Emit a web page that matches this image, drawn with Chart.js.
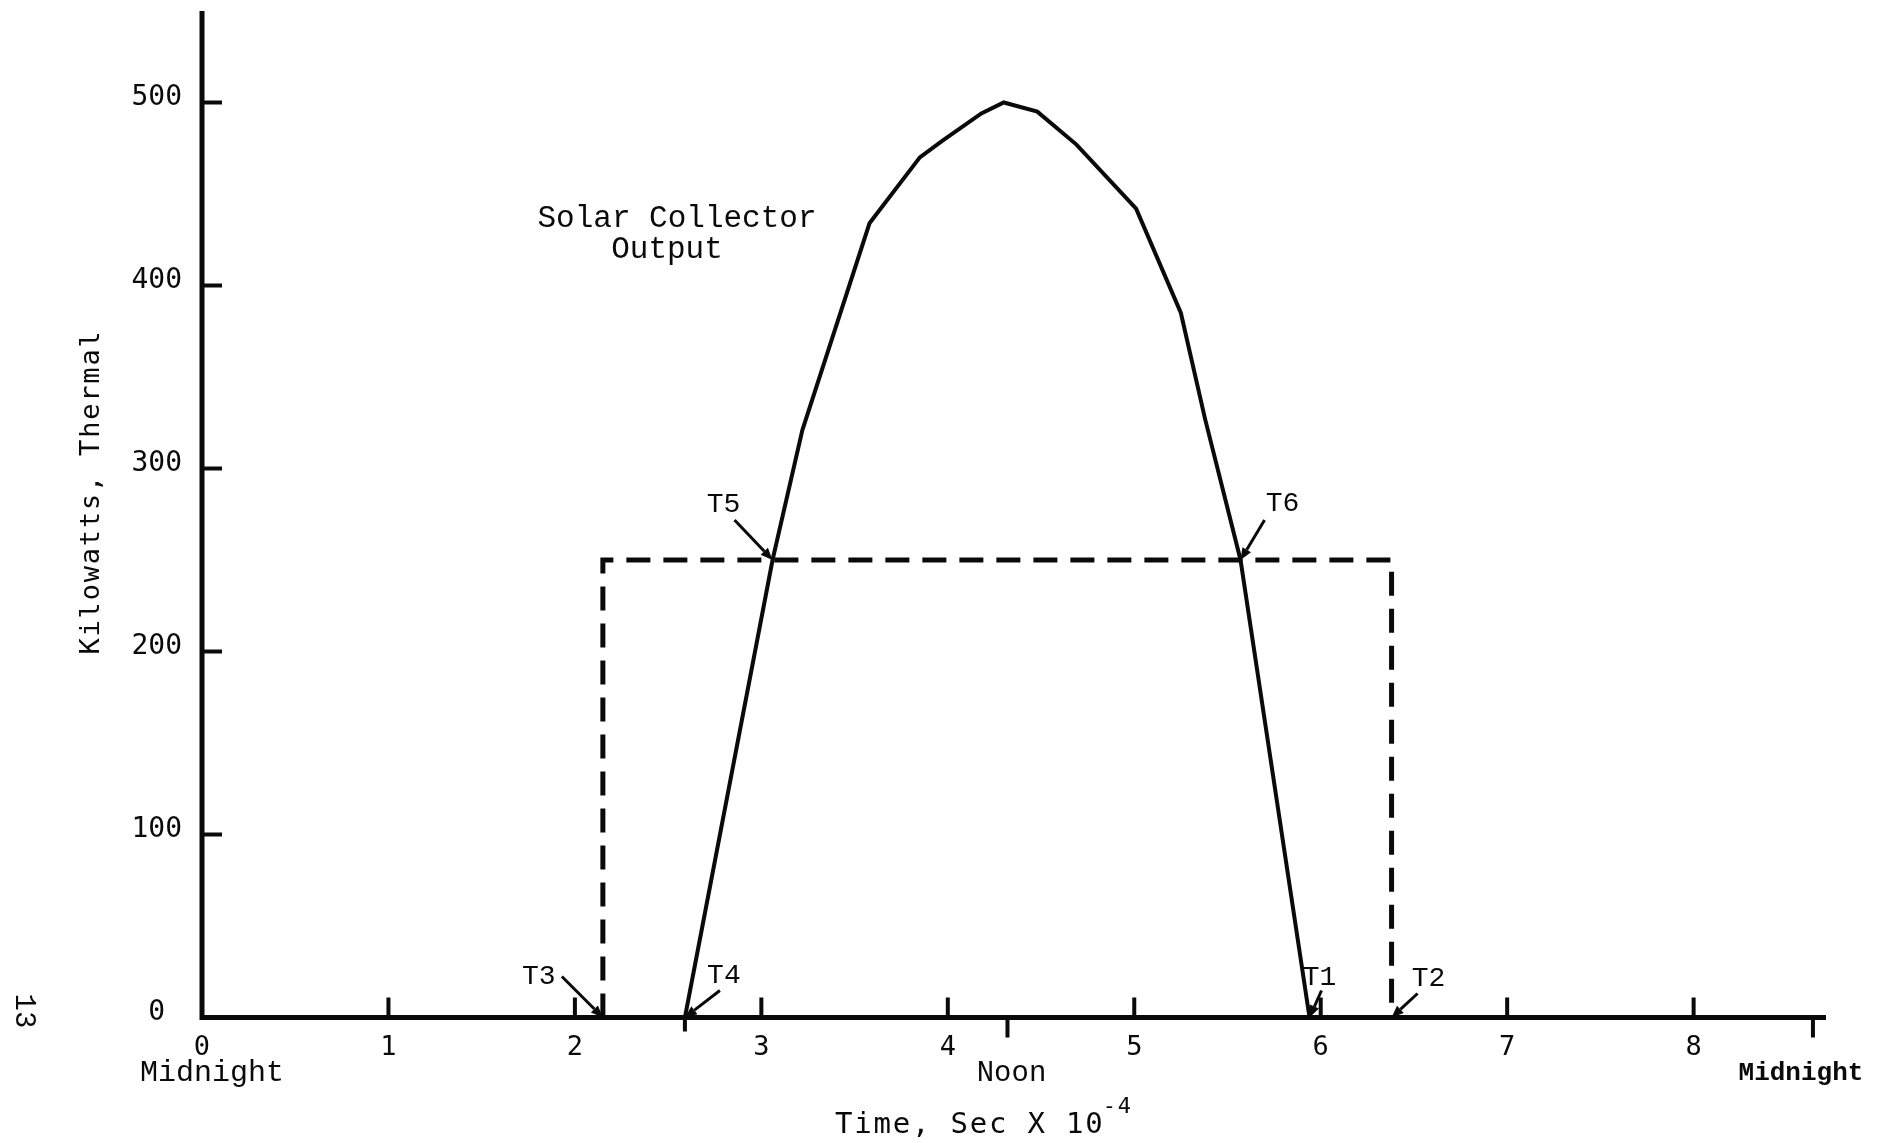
<!DOCTYPE html>
<html>
<head>
<meta charset="utf-8">
<script src="https://cdn.jsdelivr.net/npm/chart.js@4.4.1/dist/chart.umd.min.js"></script>
<style>
  html, body { margin: 0; padding: 0; background: #fff; overflow: hidden; }
  #wrap { position: relative; width: 1904px; height: 1143px; }
</style>
</head>
<body>
<div id="wrap"><canvas id="myChart"></canvas></div>
<script>
// time axis is in units of 10^4 seconds, power in kW thermal
const sunTime = [2.59, 3.06, 3.22, 3.58, 3.85, 3.97, 4.18, 4.30, 4.48, 4.69, 5.01, 5.25, 5.38, 5.57, 5.94];
const sunKw   = [0, 250, 321, 434, 470, 479, 494, 500, 495, 477, 442, 385, 327, 250, 0];

const loadTime = [2.15, 2.15, 6.38, 6.38];
const loadKw   = [0, 250, 250, 0];

const xTicks = [0, 1, 2, 3, 4, 5, 6, 7, 8];
const yTicks = [0, 100, 200, 300, 400, 500];

// sunrise, noon and midnight marks under the time axis
const dayMarks = [2.59, 4.32, 8.64];
const dayNames = ['Midnight', 'Noon', 'Midnight'];
const dayNameAt = [0, 4.32, 8.64];

const markNames = ['T1', 'T2', 'T3', 'T4', 'T5', 'T6'];
const markTime  = [5.94, 6.38, 2.15, 2.59, 3.06, 5.57];
const markKw    = [0, 0, 0, 0, 250, 250];

const ink = '#0a0a0a';
const sans = '"DejaVu Sans Mono", monospace';
const mono = '"Liberation Mono", monospace';

function pairs(xs, ys) {
  return xs.map((v, i) => ({ x: v, y: ys[i] }));
}

function arrow(ctx, fx, fy, tx, ty) {
  const a = Math.atan2(ty - fy, tx - fx);
  const hl = 12, hw = 5;
  const bx = tx - hl * Math.cos(a), by = ty - hl * Math.sin(a);
  ctx.beginPath();
  ctx.moveTo(fx, fy);
  ctx.lineTo(bx, by);
  ctx.stroke();
  ctx.beginPath();
  ctx.moveTo(tx, ty);
  ctx.lineTo(bx + hw * Math.sin(a), by - hw * Math.cos(a));
  ctx.lineTo(bx - hw * Math.sin(a), by + hw * Math.cos(a));
  ctx.closePath();
  ctx.fill();
}

// label offset [labelDx, labelDy, tailDx, tailDy] from each marked point
const markLayout = {
  T1: [10, -40, 12, -27],
  T2: [37, -39, 26, -24],
  T3: [-64, -41, -41, -41],
  T4: [39, -42, 35, -27],
  T5: [-49, -55, -38, -40],
  T6: [42, -56, 24, -40]
};

const paper = {
  id: 'paper',
  beforeDraw(chart) {
    const ctx = chart.ctx;
    ctx.save();
    ctx.fillStyle = '#fff';
    ctx.fillRect(0, 0, chart.width, chart.height);
    ctx.restore();
  },
  afterDatasetsDraw(chart) {
    const { ctx, scales: { x, y } } = chart;
    const x0 = x.getPixelForValue(0);
    const y0 = y.getPixelForValue(0);
    ctx.save();
    ctx.strokeStyle = ink;
    ctx.fillStyle = ink;

    // axes
    ctx.lineWidth = 5;
    ctx.beginPath();
    ctx.moveTo(x0, y.getPixelForValue(y.max));
    ctx.lineTo(x0, y0);
    ctx.lineTo(x.getPixelForValue(x.max), y0);
    ctx.stroke();

    // tick marks
    ctx.lineWidth = 4;
    ctx.beginPath();
    yTicks.filter(v => v > 0).forEach(v => {
      const py = y.getPixelForValue(v);
      ctx.moveTo(x0, py);
      ctx.lineTo(x0 + 20, py);
    });
    xTicks.filter(v => v > 0).forEach(v => {
      const px = x.getPixelForValue(v);
      ctx.moveTo(px, y0);
      ctx.lineTo(px, y0 - 20);
    });
    dayMarks.forEach((v, i) => {
      const px = x.getPixelForValue(v);
      ctx.moveTo(px, y0);
      ctx.lineTo(px, y0 + (i === 0 ? 14 : 20));
    });
    ctx.stroke();

    // event labels with arrows
    ctx.lineWidth = 3;
    ctx.font = '28px ' + mono;
    ctx.textAlign = 'center';
    ctx.textBaseline = 'middle';
    markNames.forEach((name, i) => {
      const px = x.getPixelForValue(markTime[i]);
      const py = y.getPixelForValue(markKw[i]);
      const l = markLayout[name];
      ctx.fillText(name, px + l[0], py + l[1]);
      arrow(ctx, px + l[2], py + l[3], px, py);
    });

    // curve caption
    ctx.font = '31px ' + mono;
    ctx.fillText('Solar Collector', 677, 219);
    ctx.fillText('Output', 667, 250);

    // day names under the time axis
    const dx = [10, 4, -12];
    dayNames.forEach((t, i) => {
      const last = i === dayNames.length - 1;
      ctx.font = (last ? 'bold 26px ' : (i === 1 ? '29px ' : '30px ')) + mono;
      ctx.fillText(t, x.getPixelForValue(dayNameAt[i]) + dx[i], 1073);
    });

    // axis titles
    ctx.letterSpacing = '1.8px';
    ctx.font = '27px ' + sans;
    ctx.save();
    ctx.translate(92, 492);
    ctx.rotate(-Math.PI / 2);
    ctx.fillText('Kilowatts, Thermal', 0, 0);
    ctx.restore();

    ctx.letterSpacing = '1.8px';
    ctx.textAlign = 'left';
    ctx.textBaseline = 'alphabetic';
    ctx.font = '29px ' + sans;
    const xt = 'Time, Sec X 10';
    ctx.fillText(xt, 835, 1133);
    const w = ctx.measureText(xt).width;
    ctx.font = '22px ' + sans;
    ctx.fillText('-4', 835 + w - 2, 1113);

    // page number
    ctx.letterSpacing = '0px';
    ctx.font = '29px ' + mono;
    ctx.textAlign = 'center';
    ctx.textBaseline = 'middle';
    ctx.translate(24, 1011);
    ctx.rotate(Math.PI / 2);
    ctx.fillText('13', 0, 0);
    ctx.restore();
  }
};

Chart.defaults.font.family = sans;
Chart.defaults.color = ink;

new Chart(document.getElementById('myChart'), {
  type: 'line',
  data: {
    datasets: [
      {
        label: 'Solar Collector Output',
        data: pairs(sunTime, sunKw),
        borderColor: ink,
        borderWidth: 4,
        pointRadius: 0,
        tension: 0,
        clip: false
      },
      {
        label: 'Load',
        data: pairs(loadTime, loadKw),
        borderColor: ink,
        borderWidth: 5,
        borderDash: [24, 13],
        pointRadius: 0,
        tension: 0,
        clip: false
      }
    ]
  },
  options: {
    responsive: true,
    maintainAspectRatio: false,
    animation: false,
    events: [],
    layout: { padding: { left: 0, top: 11, right: 78, bottom: 0 } },
    plugins: { legend: { display: false }, tooltip: { enabled: false } },
    scales: {
      x: {
        type: 'linear',
        min: 0,
        max: 8.71,
        afterBuildTicks: s => { s.ticks = xTicks.map(v => ({ value: v })); },
        afterFit: s => { s.height = 125.5; s.paddingLeft = 0; s.paddingRight = 0; },
        grid: { display: false, drawTicks: false },
        border: { display: false },
        ticks: { font: { size: 27 }, padding: 14, maxRotation: 0, autoSkip: false }
      },
      y: {
        min: 0,
        max: 550,
        afterBuildTicks: s => { s.ticks = yTicks.map(v => ({ value: v })); },
        afterFit: s => { s.width = 202; s.paddingTop = 0; s.paddingBottom = 0; },
        grid: { display: false, drawTicks: false },
        border: { display: false },
        ticks: {
          font: { size: 28 },
          padding: 20,
          labelOffset: -5,
          callback: v => (v === 0 ? '0 ' : String(v))
        }
      }
    }
  },
  plugins: [paper]
});
</script>
</body>
</html>
